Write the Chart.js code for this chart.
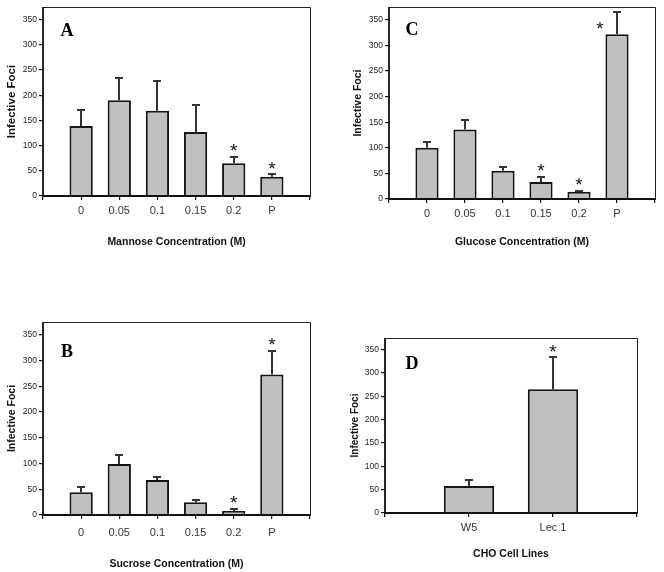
<!DOCTYPE html>
<html>
<head>
<meta charset="utf-8">
<script src="https://cdn.jsdelivr.net/npm/chart.js@4/dist/chart.umd.min.js"></script>
<style>
  html, body { margin: 0; padding: 0; background: #fff; }
  #wrap { position: relative; width: 664px; height: 572px; overflow: hidden; }
  .panel { position: absolute; width: 332px; height: 286px; }
  canvas { display: block; }
</style>
</head>
<body>
<div id="wrap">
  <div class="panel" style="left:0;top:0"><canvas id="cA" width="332" height="286"></canvas></div>
  <div class="panel" style="left:332px;top:0"><canvas id="cC" width="332" height="286"></canvas></div>
  <div class="panel" style="left:0;top:286px"><canvas id="cB" width="332" height="286"></canvas></div>
  <div class="panel" style="left:332px;top:286px"><canvas id="cD" width="332" height="286"></canvas></div>
</div>
<script>
// ---- data ----
const sugarConcentrations = ['0', '0.05', '0.1', '0.15', '0.2', 'P'];
const mannoseFoci   = [139, 190, 169, 127, 65, 38];
const mannoseSD     = [31, 45, 60, 53, 13, 5];
const mannoseSig    = [false, false, false, false, true, true];

const glucoseFoci   = [100, 136, 55, 33, 14, 322];
const glucoseSD     = [11, 19, 8, 10, 2, 44];
const glucoseSig    = [false, false, false, true, true, true];

const sucroseFoci   = [44, 99, 68, 25, 8, 273];
const sucroseSD     = [11, 17, 5, 4, 4, 46];
const sucroseSig    = [false, false, false, false, true, true];

const cellLines     = ['W5', 'Lec 1'];
const cellFoci      = [58, 265];
const cellSD        = [12, 69];
const cellSig       = [false, true];

const yTickValues   = [0, 50, 100, 150, 200, 250, 300, 350];
const yAxisMax      = 375;

// ---- plugin: frame, error bars, asterisks, panel letter ----
const extrasPlugin = {
  id: 'extras',
  afterDatasetsDraw(chart) {
    const o = chart.options.plugins.extras;
    const ctx = chart.ctx;
    const xs = chart.scales.x, ys = chart.scales.y;
    const ca = chart.chartArea;
    ctx.save();
    // error bars (upper only)
    ctx.strokeStyle = '#333';
    ctx.lineWidth = 2;
    o.means.forEach((m, i) => {
      const x = Math.round(xs.getPixelForValue(i + 1));
      const y0 = ys.getPixelForValue(m);
      const y1 = Math.round(ys.getPixelForValue(m + o.sd[i]));
      ctx.beginPath();
      ctx.moveTo(x, y0);
      ctx.lineTo(x, y1);
      ctx.moveTo(x - 4, y1);
      ctx.lineTo(x + 4, y1);
      ctx.stroke();
    });
    // asterisks
    ctx.fillStyle = '#111';
    ctx.font = '19px "Liberation Sans", Arial, sans-serif';
    ctx.textAlign = 'center';
    ctx.textBaseline = 'alphabetic';
    o.sig.forEach((s, i) => {
      if (!s) return;
      let x = xs.getPixelForValue(i + 1);
      let yc = ys.getPixelForValue(o.means[i] + o.sd[i]) - o.starGap;
      if (yc < ca.top + 8) { x -= 17; yc = ca.top + 17; }
      ctx.fillText('*', x, yc + 10.5);
    });
    ctx.restore();
  },
  afterDraw(chart) {
    const o = chart.options.plugins.extras;
    const ctx = chart.ctx;
    const ca = chart.chartArea;
    const l = Math.round(ca.left), r = Math.round(ca.right);
    const t = Math.round(ca.top), b = Math.round(ca.bottom);
    ctx.save();
    // thin top/right frame
    ctx.strokeStyle = '#222';
    ctx.lineWidth = 1;
    ctx.beginPath();
    ctx.moveTo(l, t + 0.5); ctx.lineTo(r + 0.5, t + 0.5); ctx.lineTo(r + 0.5, b);
    ctx.stroke();
    // heavier left/bottom axes
    ctx.strokeStyle = '#111';
    ctx.lineWidth = 1.8;
    ctx.beginPath();
    ctx.moveTo(l, t); ctx.lineTo(l, b); ctx.lineTo(r + 1, b);
    ctx.stroke();
    ctx.fillStyle = '#000';
    ctx.font = 'bold 18px "Liberation Serif", "Times New Roman", serif';
    ctx.textAlign = 'center';
    ctx.textBaseline = 'middle';
    ctx.fillText(o.letter, ca.left + o.letterDx, ca.top + o.letterDy);
    ctx.restore();
  }
};

function makePanel(id, cfg) {
  const labels = [''].concat(cfg.categories, ['']);
  const values = [null].concat(cfg.means, [null]);
  new Chart(document.getElementById(id), {
    type: 'bar',
    data: {
      labels: labels,
      datasets: [{
        data: values,
        backgroundColor: '#c0c0c0',
        borderColor: '#151515',
        borderWidth: 2,
        categoryPercentage: 1,
        barPercentage: cfg.barPct
      }]
    },
    options: {
      responsive: false,
      devicePixelRatio: 1,
      animation: false,
      events: [],
      layout: { padding: { left: 0, top: cfg.top, right: cfg.right, bottom: 0 } },
      plugins: {
        legend: { display: false },
        tooltip: { enabled: false },
        extras: {
          means: cfg.means, sd: cfg.sd, sig: cfg.sig, letter: cfg.letter,
          letterDx: cfg.letterDx, letterDy: cfg.letterDy, starGap: 10
        }
      },
      scales: {
        x: {
          type: 'category',
          offset: false,
          grid: { display: true, drawOnChartArea: false, drawTicks: true, tickLength: 4, color: '#111', lineWidth: 1.2, offset: false },
          border: { display: false },
          ticks: {
            autoSkip: false, maxRotation: 0, minRotation: 0,
            padding: cfg.xTickPad,
            color: '#333',
            font: { family: '"Liberation Sans", Arial, sans-serif', size: 11 }
          },
          title: {
            display: true, text: cfg.xTitle, color: '#111',
            font: { family: '"Liberation Sans", Arial, sans-serif', size: 10.5, weight: 'bold', lineHeight: 1.2 },
            padding: { top: 0, bottom: cfg.xTitlePad }
          },
          afterFit(scale) { scale.height = cfg.xHeight; }
        },
        y: {
          type: 'linear',
          min: 0,
          max: yAxisMax,
          grid: { display: true, drawOnChartArea: false, drawTicks: true, tickLength: 4, color: '#111', lineWidth: 1.2 },
          border: { display: false },
          afterBuildTicks(scale) { scale.ticks = yTickValues.map(v => ({ value: v })); },
          ticks: {
            padding: 2,
            color: '#222',
            font: { family: '"Liberation Sans", Arial, sans-serif', size: 8.5 }
          },
          title: {
            display: true, text: 'Infective Foci', color: '#111',
            font: { family: '"Liberation Sans", Arial, sans-serif', size: cfg.yTitleSize, weight: 'bold', lineHeight: 1.2 },
            padding: { top: cfg.yTitlePad, bottom: 0 }
          },
          afterFit(scale) { scale.width = cfg.yWidth; }
        }
      }
    },
    plugins: [extrasPlugin]
  });
}

makePanel('cA', {
  categories: sugarConcentrations, means: mannoseFoci, sd: mannoseSD, sig: mannoseSig,
  letter: 'A', letterDx: 24, letterDy: 24, barPct: 0.61,
  top: 7, right: 22, yWidth: 43, xHeight: 90,
  xTickPad: 4, xTitle: 'Mannose Concentration (M)', xTitlePad: 37.5,
  yTitleSize: 11.5, yTitlePad: 5
});
makePanel('cC', {
  categories: sugarConcentrations, means: glucoseFoci, sd: glucoseSD, sig: glucoseSig,
  letter: 'C', letterDx: 23, letterDy: 23, barPct: 0.61,
  top: 7, right: 9, yWidth: 57, xHeight: 87,
  xTickPad: 4, xTitle: 'Glucose Concentration (M)', xTitlePad: 37.5,
  yTitleSize: 10.5, yTitlePad: 20
});
makePanel('cB', {
  categories: sugarConcentrations, means: sucroseFoci, sd: sucroseSD, sig: sucroseSig,
  letter: 'B', letterDx: 24, letterDy: 30, barPct: 0.61,
  top: 36, right: 22, yWidth: 43, xHeight: 57,
  xTickPad: 7, xTitle: 'Sucrose Concentration (M)', xTitlePad: 2,
  yTitleSize: 10.5, yTitlePad: 6
});
makePanel('cD', {
  categories: cellLines, means: cellFoci, sd: cellSD, sig: cellSig,
  letter: 'D', letterDx: 27, letterDy: 26, barPct: 0.6,
  top: 52, right: 27, yWidth: 53, xHeight: 59,
  xTickPad: 4, xTitle: 'CHO Cell Lines', xTitlePad: 11.5,
  yTitleSize: 10, yTitlePad: 17
});
</script>
</body>
</html>
